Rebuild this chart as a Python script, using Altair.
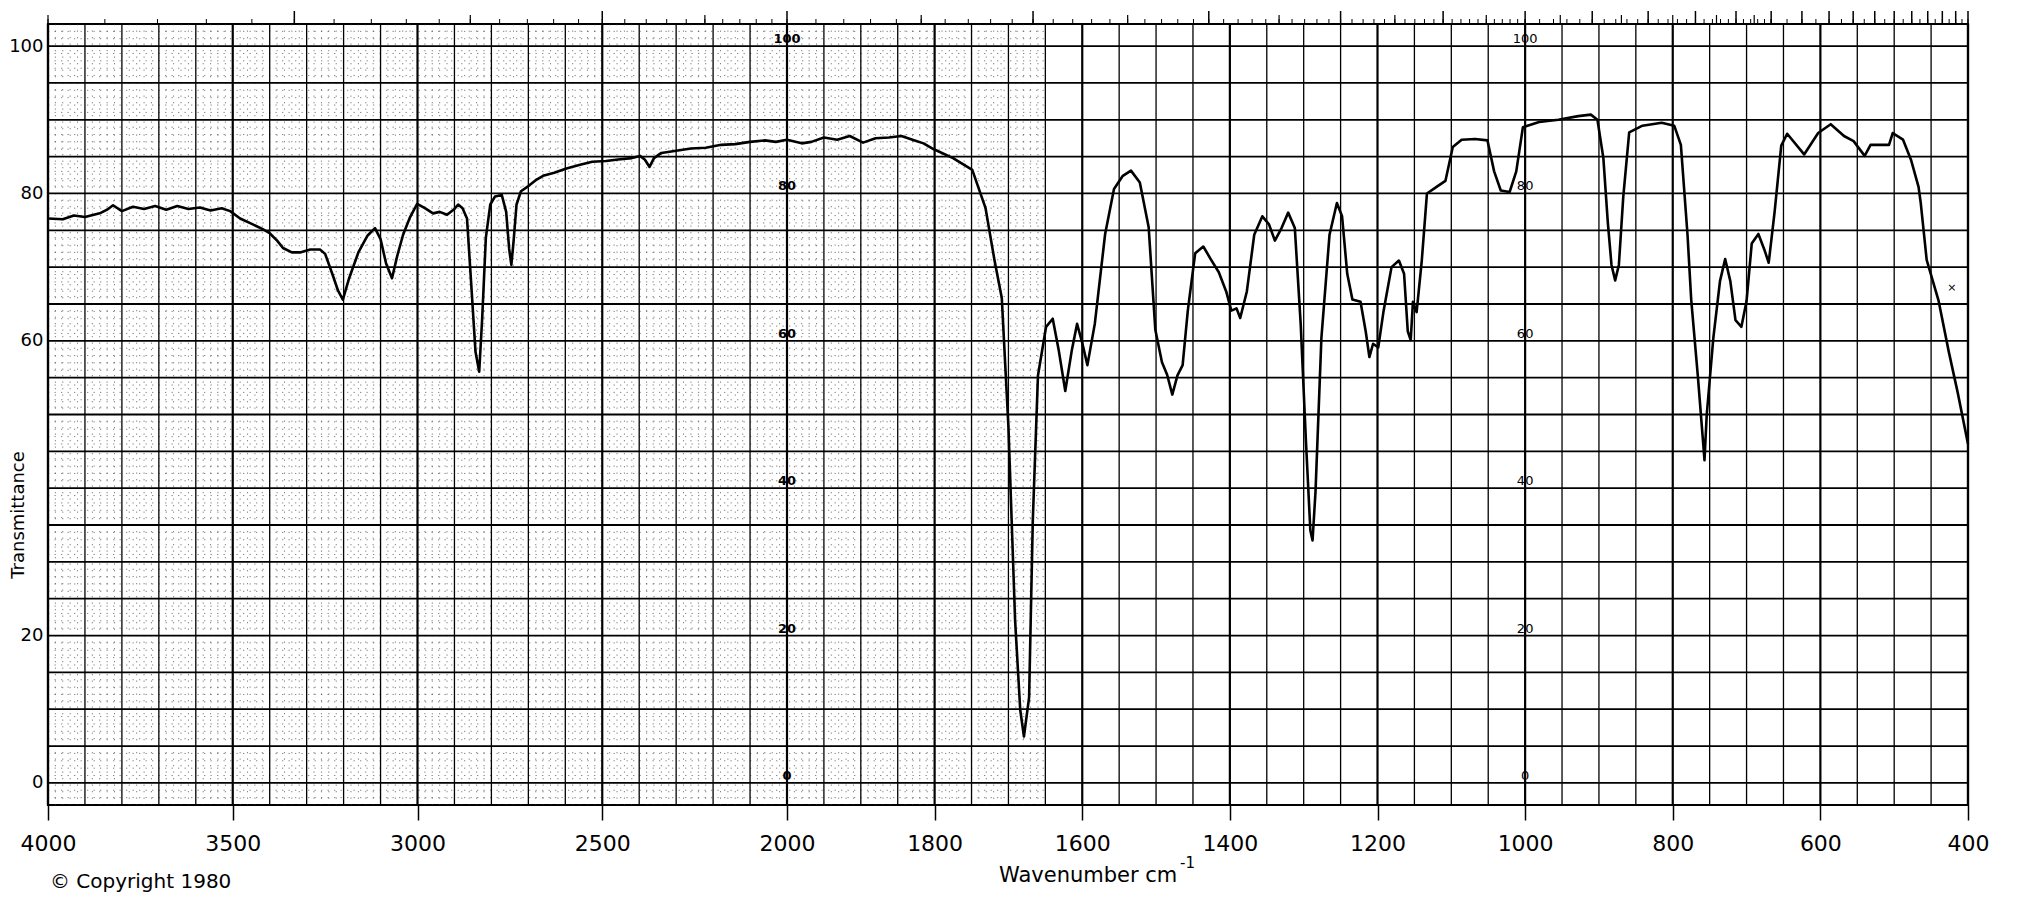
import altair as alt
import pandas as pd

# ---------------- spectrum data ----------------
wavenumber = [
    4000, 3960, 3930, 3900, 3860, 3840, 3824, 3800, 3770, 3740, 3710, 3680, 3650, 3620,
    3589, 3560, 3530, 3507, 3480, 3450, 3420, 3400, 3380, 3364, 3340, 3318, 3290, 3264,
    3250, 3230, 3215, 3202, 3185, 3160, 3135, 3115, 3100, 3085, 3069, 3055, 3039, 3020,
    3001, 2980, 2958, 2940, 2920, 2900, 2890, 2878, 2866, 2855, 2843, 2833, 2825, 2815,
    2803, 2790, 2772, 2760, 2752, 2746, 2740, 2732, 2720, 2700, 2680, 2660, 2630, 2597,
    2560, 2527, 2490, 2457, 2420, 2398, 2385, 2372, 2360, 2340, 2300, 2260, 2220, 2178,
    2140, 2100, 2060, 2030, 2000,
    1980, 1967, 1950, 1932, 1915, 1897, 1880, 1862, 1845, 1827, 1815, 1801, 1775, 1749,
    1731, 1719, 1709, 1700, 1691, 1684, 1679, 1672, 1667, 1660, 1649, 1640, 1632, 1623,
    1614, 1607, 1600, 1593, 1583, 1569, 1557, 1545, 1534, 1522, 1510, 1501, 1492, 1485,
    1478, 1471, 1464, 1457, 1447, 1436, 1426, 1415, 1405, 1398, 1391, 1386, 1377, 1367,
    1356, 1347, 1339, 1330, 1321, 1312, 1304, 1297, 1291, 1288, 1284, 1276, 1265, 1255,
    1248, 1241, 1234, 1223, 1216, 1211, 1206, 1199, 1192, 1181, 1171, 1164, 1159, 1155,
    1152, 1147, 1140, 1133, 1120, 1108, 1098, 1086, 1068, 1051, 1042, 1033, 1021, 1012,
    1003, 981, 955, 928, 911, 902, 894, 888, 883, 878, 873, 867, 859, 841,
    815, 798, 789, 780, 775, 766, 759, 757, 754, 745, 736, 729, 722, 715,
    707, 700, 693, 684, 676, 670, 662, 653, 645, 622, 603, 586, 568, 555,
    540, 532, 507, 502, 488, 477, 467, 464, 456, 440, 426, 414, 400,
]
transmittance = [
    76.6, 76.5, 77.0, 76.8, 77.3, 77.8, 78.4, 77.6, 78.2, 77.9, 78.3, 77.8, 78.3, 77.9,
    78.1, 77.7, 78.0, 77.6, 76.6, 75.9, 75.2, 74.6, 73.6, 72.6, 72.0, 72.0, 72.4, 72.4,
    71.8, 69.0, 66.8, 65.6, 68.5, 72.0, 74.3, 75.3, 73.8, 70.5, 68.5, 71.5, 74.4, 76.8,
    78.6, 78.0, 77.3, 77.5, 77.1, 77.9, 78.5, 78.0, 76.6, 68.0, 58.5, 55.8, 63.0, 74.0,
    78.5, 79.6, 79.8, 77.5, 72.5, 70.3, 73.5, 78.5, 80.3, 81.0, 81.8, 82.4, 82.8, 83.4,
    83.9, 84.3, 84.4, 84.6, 84.8, 85.1, 84.6, 83.6, 84.8, 85.5, 85.8, 86.1, 86.2, 86.6,
    86.7, 87.0, 87.2, 87.0, 87.3,
    86.8, 87.0, 87.6, 87.3, 87.8, 86.9, 87.5, 87.6, 87.8, 87.2, 86.8, 86.0, 84.8, 83.2,
    78.0, 71.0, 65.8, 48.3, 22.1, 9.9, 6.3, 11.6, 35.6, 55.3, 61.9, 63.0, 58.8, 53.2,
    58.8, 62.3, 59.7, 56.7, 62.3, 74.5, 80.6, 82.4, 83.1, 81.5, 75.4, 61.5, 57.1, 55.4,
    52.7, 55.3, 56.7, 64.1, 71.9, 72.8, 71.1, 69.3, 66.7, 64.1, 64.4, 63.1, 66.7, 74.4,
    76.9, 75.8, 73.6, 75.3, 77.4, 75.3, 62.2, 46.5, 34.3, 32.9, 39.5, 60.4, 74.4, 78.7,
    76.9, 69.1, 65.6, 65.3, 61.3, 57.8, 59.6, 59.1, 63.9, 70.0, 70.9, 69.1, 61.3, 60.1,
    65.3, 63.9, 70.9, 80.0, 80.9, 81.7, 86.3, 87.3, 87.4, 87.2, 83.0, 80.4, 80.2, 83.0,
    89.0, 89.7, 90.0, 90.5, 90.7, 90.0, 84.8, 76.1, 70.3, 68.2, 70.3, 79.6, 88.3, 89.2,
    89.6, 89.2, 86.6, 74.4, 65.6, 55.2, 46.4, 43.8, 49.9, 60.4, 68.1, 71.1, 68.1, 62.8,
    61.9, 65.4, 73.2, 74.5, 72.4, 70.6, 77.5, 86.5, 88.1, 85.3, 88.2, 89.4, 87.8, 87.1,
    85.1, 86.6, 86.6, 88.2, 87.3, 84.5, 80.9, 78.7, 71.0, 65.5, 58.5, 53.0, 46.0,
]

# ---------------- axis / chart-paper text ----------------
x_labels = [4000, 3500, 3000, 2500, 2000, 1800, 1600, 1400, 1200, 1000, 800, 600, 400]
y_labels = [0, 20, 60, 80, 100]
inner_values = [0, 20, 40, 60, 80, 100]
inner_columns = [2000, 1000]

# chart paper grid
grid_x = list(range(4000, 2000, -100)) + list(range(2000, 399, -50))
grid_y = list(range(0, 101, 5))
fine_y = [v for v in range(-2, 103) if v % 5 != 0]
fine_x = [v for v in range(3980, 2000, -20) if v % 100 != 0] + \
         [v for v in range(1990, 1650, -10) if v % 50 != 0]

# wavelength ruler on top (micrometres)
um_major = [3, 4, 5, 6, 7, 8, 9, 10, 11, 12, 13, 14, 15, 16, 17, 18, 19, 20, 21, 22, 23, 24, 25]
um_mid = [2.5, 3.5, 4.5, 5.5, 6.5, 7.5, 8.5, 9.5, 10.5, 11.5, 12.5, 13.5, 14.5]
um_minor = ([round(2.5 + 0.1 * i, 1) for i in range(76)] +
            [round(10 + 0.2 * i, 1) for i in range(26)] +
            [round(15 + 0.5 * i, 1) for i in range(21)])

W, H = 1920, 781
xs = alt.Scale(domain=[4000, 2000, 400], range=[0, 739, W], nice=False, zero=False)
ys = alt.Scale(domain=[-3, 103], nice=False, zero=False)

FONT = "DejaVu Sans"
x_axis = alt.Axis(values=x_labels, title=None, grid=False, domain=False, ticks=True,
                  tickSize=15, tickWidth=1.5, tickColor="black", labelFontSize=22,
                  labelFont=FONT, labelColor="black", labelPadding=13, labelFlush=False,
                  labelOverlap=False, format="d")
y_axis = alt.Axis(values=y_labels, title=None, grid=False, domain=False, ticks=False,
                  tickSize=0, labelFontSize=18, labelFont=FONT, labelColor="black",
                  labelPadding=5, labelOverlap=False, format="d")


def X(field):
    return alt.X(field, type="quantitative", scale=xs, axis=x_axis)


def Y(field):
    return alt.Y(field, type="quantitative", scale=ys, axis=y_axis)


# fine dotted sub-grid (left part of the paper)
fine_h = alt.Chart(pd.DataFrame({"y": fine_y, "a": [4000] * len(fine_y), "b": [1650] * len(fine_y)})
                   ).mark_rule(color="#333", strokeWidth=1, strokeDash=[1.3, 5.2], opacity=0.6
                   ).encode(x=X("a"), x2="b:Q", y=Y("y"))
fine_v = alt.Chart(pd.DataFrame({"x": fine_x})).mark_rule(
    color="#333", strokeWidth=1, strokeDash=[1.3, 5.2], opacity=0.6).encode(x=X("x"))

# main grid
gv = alt.Chart(pd.DataFrame({"x": grid_x, "w": [2.2 if v in x_labels else 1.3 for v in grid_x]})
               ).mark_rule(color="black").encode(x=X("x"), strokeWidth=alt.StrokeWidth("w:Q", scale=None))
gh = alt.Chart(pd.DataFrame({"y": grid_y})).mark_rule(color="black", strokeWidth=1.8).encode(y=Y("y"))


# top wavelength ruler ticks
def ruler(vals, length, width):
    return alt.Chart(pd.DataFrame({"um": vals})).transform_calculate(
        wn="10000 / datum.um").mark_rule(color="black", strokeWidth=width).encode(
        x=X("wn"), y=alt.value(0), y2=alt.value(-length))


top_minor = ruler(um_minor, 5, 1)
top_mid = ruler(um_mid, 9, 1.2)
top_major = ruler(um_major, 13, 1.5)

# inner transmittance scales printed on the paper
inner_bold = alt.Chart(pd.DataFrame({"x": [inner_columns[0]] * 6, "y": inner_values})).mark_text(
    font=FONT, fontSize=13, fontWeight="bold", baseline="alphabetic", align="center", dy=-3,
    color="black").encode(x=X("x"), y=Y("y"), text=alt.Text("y:Q", format="d"))
inner_reg = alt.Chart(pd.DataFrame({"x": [inner_columns[1]] * 6, "y": inner_values})).mark_text(
    font=FONT, fontSize=13, baseline="alphabetic", align="center", dy=-3,
    color="black").encode(x=X("x"), y=Y("y"), text=alt.Text("y:Q", format="d"))

# spectrum
spec = alt.Chart(pd.DataFrame({"wn": wavenumber, "t": transmittance,
                               "i": list(range(len(wavenumber)))})).mark_line(
    color="black", strokeWidth=2.6, strokeJoin="round").encode(
    x=X("wn"), y=Y("t"), order="i:Q")


def label(text, x, y, size, **kw):
    return alt.Chart(pd.DataFrame({"t": [text]})).mark_text(
        font=FONT, fontSize=size, color="black", **kw).encode(
        text="t:N", x=alt.value(x), y=alt.value(y))


copyright_t = label("© Copyright  1980", 2, 858, 20, align="left", baseline="middle")
wn_title = label("Wavenumber  cm", 951, 852, 21, align="left", baseline="middle")
wn_sup = label("-1", 1132, 839, 15, align="left", baseline="middle")
t_title = label("Transmittance", -29, 491, 18, align="center", baseline="middle", angle=270)
cross = alt.Chart(pd.DataFrame({"x": [422], "y": [67.2], "t": ["×"]})).mark_text(
    font=FONT, fontSize=11, color="black").encode(x=X("x"), y=Y("y"), text="t:N")

chart = alt.layer(
    fine_h, fine_v, gv, gh, top_minor, top_mid, top_major,
    inner_bold, inner_reg, spec, cross, copyright_t, wn_title, wn_sup, t_title,
).properties(
    width=W, height=H,
    padding={"left": 40, "top": 16, "right": 40, "bottom": 90},
    autosize=alt.AutoSizeParams(type="none"),
    background="white",
).configure_view(stroke="black", strokeWidth=2.2)

chart.save("out.html", embed_options={"renderer": "svg", "actions": False})
